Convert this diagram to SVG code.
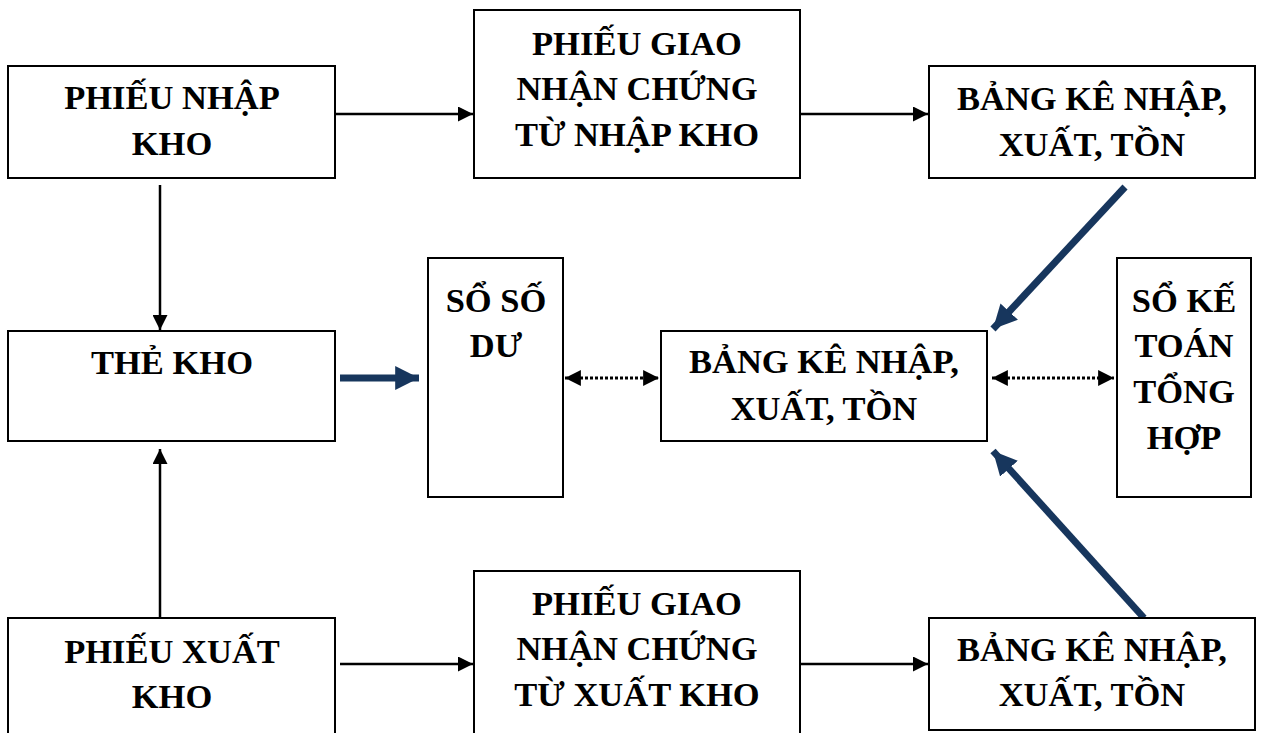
<svg xmlns="http://www.w3.org/2000/svg" width="1262" height="733" viewBox="0 0 1262 733">
<defs>
<style>
.box{fill:#fff;stroke:#000;stroke-width:2}
.t{font-family:"Liberation Serif","Times New Roman",serif;font-weight:bold;font-size:34.5px;fill:#000;text-anchor:middle}
.ln{stroke:#000;stroke-width:2.5;fill:none}
.dot{stroke:#000;stroke-width:3;stroke-dasharray:3 2;fill:none}
.nv{stroke:#17365D;stroke-width:7;fill:none}
</style>
<marker id="ah" viewBox="0 0 10 10" refX="10" refY="5" markerWidth="6" markerHeight="6" markerUnits="strokeWidth" orient="auto-start-reverse"><path d="M0,0 L10,5 L0,10 z" fill="#000"/></marker>
<marker id="ad" viewBox="0 0 10 10" refX="10" refY="5" markerWidth="5.3" markerHeight="5.5" markerUnits="strokeWidth" orient="auto-start-reverse"><path d="M0,0 L10,5 L0,10 z" fill="#000"/></marker>
<marker id="an" viewBox="0 0 10 10" refX="10" refY="5" markerWidth="3.4" markerHeight="3.4" markerUnits="strokeWidth" orient="auto"><path d="M0,0 L10,5 L0,10 z" fill="#17365D"/></marker>
</defs>
<rect width="1262" height="733" fill="#fff"/>
<g id="connectors">
<line class="ln" x1="330" y1="114" x2="473" y2="114" marker-end="url(#ah)"/>
<line class="ln" x1="800" y1="114" x2="928" y2="114" marker-end="url(#ah)"/>
<line class="ln" x1="160" y1="185" x2="160" y2="330" marker-end="url(#ah)"/>
<line class="ln" x1="160" y1="618" x2="160" y2="449" marker-end="url(#ah)"/>
<line class="ln" x1="340" y1="664" x2="473" y2="664" marker-end="url(#ah)"/>
<line class="ln" x1="800" y1="664" x2="928" y2="664" marker-end="url(#ah)"/>
<line class="dot" x1="565" y1="378" x2="659" y2="378" marker-start="url(#ad)" marker-end="url(#ad)"/>
<line class="dot" x1="992" y1="378" x2="1114" y2="378" marker-start="url(#ad)" marker-end="url(#ad)"/>
<line class="nv" x1="340" y1="378" x2="419" y2="378" marker-end="url(#an)"/>
<line class="nv" x1="1125" y1="187" x2="993" y2="329" marker-end="url(#an)"/>
<line class="nv" x1="1144" y1="618" x2="993" y2="451" marker-end="url(#an)"/>
</g>
<g id="phieu-nhap-kho"><rect class="box" x="8" y="66" width="327" height="112"/>
<text class="t" x="172" y="109">PHIẾU NHẬP</text><text class="t" x="172" y="155">KHO</text></g>
<g id="phieu-giao-nhap"><rect class="box" x="474" y="10" width="326" height="168"/>
<text class="t" x="637" y="55">PHIẾU GIAO</text><text class="t" x="637" y="100">NHẬN CHỨNG</text><text class="t" x="637" y="146">TỪ NHẬP KHO</text></g>
<g id="bang-ke-top"><rect class="box" x="929" y="66" width="326" height="112"/>
<text class="t" x="1092" y="110">BẢNG KÊ NHẬP,</text><text class="t" x="1092" y="156">XUẤT, TỒN</text></g>
<g id="the-kho"><rect class="box" x="8" y="331" width="327" height="110"/>
<text class="t" x="172" y="374">THẺ KHO</text></g>
<g id="so-so-du"><rect class="box" x="428" y="258" width="135" height="239"/>
<text class="t" x="496" y="312">SỔ SỐ</text><text class="t" x="496" y="357">DƯ</text></g>
<g id="bang-ke-mid"><rect class="box" x="661" y="331" width="326" height="110"/>
<text class="t" x="824" y="373">BẢNG KÊ NHẬP,</text><text class="t" x="824" y="420">XUẤT, TỒN</text></g>
<g id="so-ke-toan"><rect class="box" x="1117" y="258" width="134" height="239"/>
<text class="t" x="1184" y="312">SỔ KẾ</text><text class="t" x="1184" y="357">TOÁN</text><text class="t" x="1184" y="403">TỔNG</text><text class="t" x="1184" y="449">HỢP</text></g>
<g id="phieu-xuat-kho"><rect class="box" x="8" y="618" width="327" height="122"/>
<text class="t" x="172" y="663">PHIẾU XUẤT</text><text class="t" x="172" y="708">KHO</text></g>
<g id="phieu-giao-xuat"><rect class="box" x="474" y="571" width="326" height="170"/>
<text class="t" x="637" y="615">PHIẾU GIAO</text><text class="t" x="637" y="660">NHẬN CHỨNG</text><text class="t" x="637" y="706">TỪ XUẤT KHO</text></g>
<g id="bang-ke-bot"><rect class="box" x="929" y="618" width="326" height="112"/>
<text class="t" x="1092" y="661">BẢNG KÊ NHẬP,</text><text class="t" x="1092" y="706">XUẤT, TỒN</text></g>
</svg>
